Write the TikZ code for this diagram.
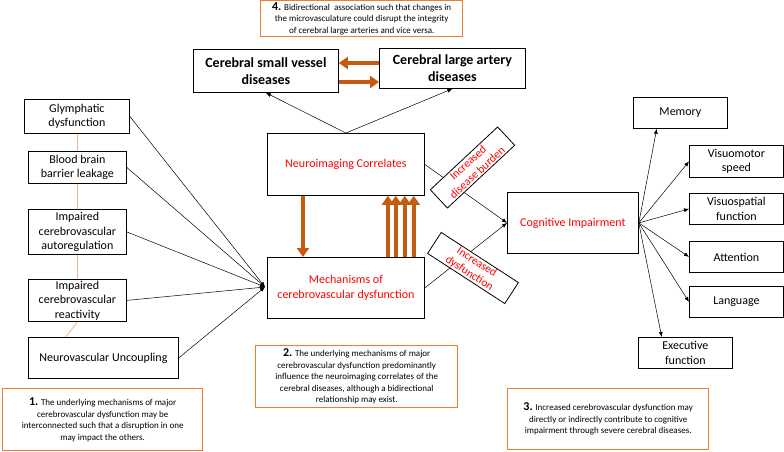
\documentclass[tikz,border=0pt]{standalone}
\usepackage{fontspec}
\setmainfont{Carlito}
\usetikzlibrary{arrows.meta,calc}
\definecolor{darkorange}{HTML}{C55A11}
\definecolor{noteorange}{HTML}{ED7D31}
\definecolor{paleorange}{HTML}{F4B183}
\newcommand{\notenum}[1]{{\fontsize{12}{12}\selectfont\textbf{#1}}}
\begin{document}
\begin{tikzpicture}[x=1pt,y=-1pt,
    box/.style={draw,line width=0.8pt,align=center,inner sep=0pt,anchor=north west,font=\fontsize{12}{14.5}\selectfont},
    bigbox/.style={box,font=\fontsize{14}{17}\selectfont\bfseries},
    redbox/.style={box,text=red},
    note/.style={draw=noteorange,line width=1.4pt,align=center,inner sep=0pt,anchor=north west,font=\fontsize{9}{11.5}\selectfont},
    tag/.style={draw,fill=white,line width=0.8pt,text=red,align=center,inner sep=0pt,font=\fontsize{11.5}{13.5}\selectfont,minimum width=92pt,minimum height=25pt},
    fat/.style={darkorange,line width=4pt,-{Triangle[width=12pt,length=9pt]}},
    thin/.style={line width=0.5pt,-{Latex[length=5pt,width=4pt]}},
    link/.style={paleorange,line width=0.8pt}]
    \useasboundingbox (0,0) rectangle (784,451);

    % notes
    \node[note,minimum width=202pt,minimum height=36pt] (n4) at (260,0) {\notenum{4.} Bidirectional\ \ association such that changes in\\the microvasculature could disrupt the integrity\\of cerebral large arteries and vice versa.};
    \node[note,minimum width=200pt,minimum height=62pt] (n1) at (2,388) {\notenum{1.} The underlying mechanisms of major\\cerebrovascular dysfunction may be\\interconnected such that a disruption in one\\may impact the others.};
    \node[note,minimum width=202pt,minimum height=62pt] (n2) at (255,345) {\notenum{2.} The underlying mechanisms of major\\cerebrovascular dysfunction predominantly\\influence the neuroimaging correlates of the\\cerebral diseases, although a bidirectional\\relationship may exist.};
    \node[note,minimum width=201pt,minimum height=61pt] (n3) at (507,388) {\notenum{3.} Increased cerebrovascular dysfunction may\\directly or indirectly contribute to cognitive\\impairment through severe cerebral diseases.};

    % diseases
    \node[bigbox,minimum width=145pt,minimum height=43pt] (svd) at (193,49) {Cerebral small vessel\\diseases};
    \node[bigbox,minimum width=146pt,minimum height=40pt] (lad) at (379,48) {Cerebral large artery\\diseases};
    \draw[fat] (lad.west |- 0,63) -- (svd.east |- 0,63);
    \draw[fat] (svd.east |- 0,82) -- (lad.west |- 0,82);

    % centre
    \node[redbox,minimum width=157pt,minimum height=62pt] (nic) at (267,133) {Neuroimaging Correlates};
    \node[redbox,minimum width=157pt,minimum height=61pt] (mech) at (267,257) {Mechanisms of\\cerebrovascular dysfunction};
    \draw[thin] (nic.north) -- (svd.south);
    \draw[thin] (nic.north) -- (lad.south);
    \draw[fat] ($(nic.south west)!0.228!(nic.south east)$) -- ($(mech.north west)!0.228!(mech.north east)$);
    \foreach \f in {0.766,0.816,0.873,0.930}
        \draw[fat] ($(mech.north west)!\f!(mech.north east)$) -- ($(nic.south west)!\f!(nic.south east)$);

    % mechanisms
    \node[box,minimum width=105pt,minimum height=34pt] (glym) at (24,99) {Glymphatic\\dysfunction};
    \node[box,minimum width=98pt,minimum height=32pt] (bbb) at (28,151) {Blood brain\\barrier leakage};
    \node[box,minimum width=98pt,minimum height=45pt] (auto) at (28,209) {Impaired\\cerebrovascular\\autoregulation};
    \node[box,minimum width=98pt,minimum height=42pt] (react) at (28,279) {Impaired\\cerebrovascular\\reactivity};
    \node[box,minimum width=150pt,minimum height=41pt] (nvu) at (28,337) {Neurovascular Uncoupling};
    \draw[link] (glym.south) -- (glym.south |- bbb.north);
    \draw[link] (bbb.south) -- (auto.north);
    \draw[link] (auto.south) -- (react.north);
    \draw[link] (react.south) -- ($(nvu.north west)!0.5!(nvu.north)$);
    \coordinate (hub) at (265,287);
    \foreach \m in {glym,bbb,auto,react,nvu}
        \draw[thin] (\m.east) -- (hub);

    % cognition
    \node[redbox,minimum width=131pt,minimum height=61pt] (ci) at (507,192) {Cognitive Impairment};
    \draw[thin] (nic.east) -- (ci.west);
    \draw[thin] (mech.east) -- (ci.west);
    \node[tag,rotate=43] (burden) at (472.5,167.5) {Increased\\disease burden};
    \node[tag,rotate=-33] (dysf) at (473,268) {Increased\\dysfunction};

    \node[box,minimum width=94pt,minimum height=31pt] (mem) at (633,97) {Memory};
    \node[box,minimum width=94pt,minimum height=32pt] (vms) at (689,145) {Visuomotor\\speed};
    \node[box,minimum width=94pt,minimum height=31pt] (vsp) at (689,193) {Visuospatial\\function};
    \node[box,minimum width=94pt,minimum height=31pt] (att) at (689,241) {Attention};
    \node[box,minimum width=94pt,minimum height=31pt] (lang) at (689,286) {Language};
    \node[box,minimum width=94pt,minimum height=31pt] (exe) at (638,337) {Executive\\function};
    \draw[thin] (ci.east) -- ($(mem.south west)!0.5!(mem.south)$);
    \draw[thin] (ci.east) -- (vms.west);
    \draw[thin] (ci.east) -- (vsp.west);
    \draw[thin] (ci.east) -- (att.west);
    \draw[thin] (ci.east) -- (lang.west);
    \draw[thin] (ci.east) -- ($(exe.north)!0.5!(exe.north west)$);
\end{tikzpicture}
\end{document}
